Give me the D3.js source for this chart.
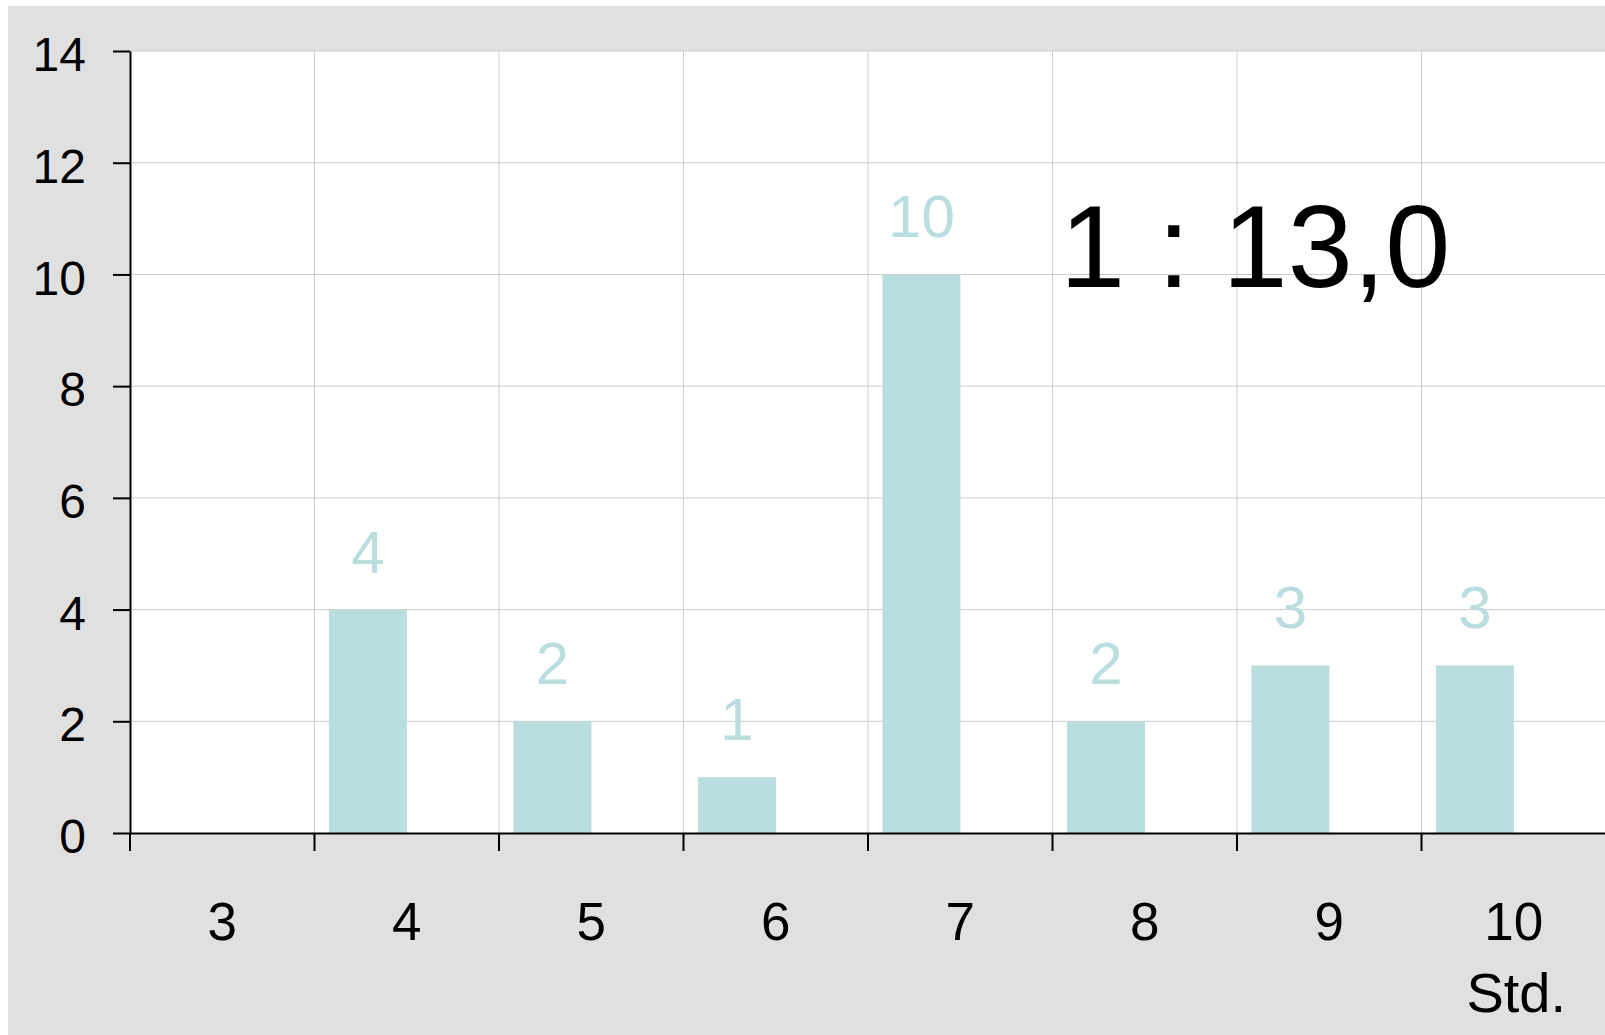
<!DOCTYPE html>
<html>
<head>
<meta charset="utf-8">
<script src="https://cdn.jsdelivr.net/npm/d3@7"></script>
<style>
  html, body { margin: 0; padding: 0; background: #fff; }
  svg { display: block; }
  text { font-family: "Liberation Sans", Arial, sans-serif; }
</style>
</head>
<body>
<svg width="1605" height="1035"></svg>
<script>
// data
const categories = ["3", "4", "5", "6", "7", "8", "9", "10"];
const counts = [null, 4, 2, 1, 10, 2, 3, 3];
const yTicks = [0, 2, 4, 6, 8, 10, 12, 14];
const ratioText = "1 : 13,0";
const unitText = "Std.";

const barColor = "#badddf";
const gridColor = "#cccccc";

const plotLeft = 130, plotTop = 51, plotBottom = 833;
const bandW = 184.5;
const plotRight = plotLeft + bandW * categories.length;

const svg = d3.select("svg");

// background
svg.append("rect")
    .attr("x", 8).attr("y", 6)
    .attr("width", 1605 - 8).attr("height", 1035 - 6)
    .attr("fill", "#e0e0e0");

svg.append("rect")
    .attr("x", plotLeft).attr("y", plotTop)
    .attr("width", plotRight - plotLeft).attr("height", plotBottom - plotTop)
    .attr("fill", "#fff");

const x = d3.scaleBand().domain(categories).range([plotLeft, plotRight]).paddingInner(0).paddingOuter(0);
const y = d3.scaleLinear().domain([0, 14]).range([plotBottom, plotTop]);

// grid
svg.append("g").selectAll("line")
    .data(yTicks.slice(1))
    .enter().append("line")
    .attr("x1", plotLeft).attr("x2", plotRight)
    .attr("y1", d => y(d)).attr("y2", d => y(d))
    .attr("stroke", gridColor).attr("stroke-width", 1);

svg.append("g").selectAll("line")
    .data(categories.slice(1))
    .enter().append("line")
    .attr("x1", d => x(d)).attr("x2", d => x(d))
    .attr("y1", plotTop).attr("y2", plotBottom)
    .attr("stroke", gridColor).attr("stroke-width", 1);

// bars
const barData = categories.map((c, i) => ({cat: c, v: counts[i]})).filter(d => d.v != null);
const bw = x.bandwidth();

svg.append("g").selectAll("rect")
    .data(barData)
    .enter().append("rect")
    .attr("x", d => x(d.cat) + bw * 0.078)
    .attr("y", d => y(d.v))
    .attr("width", bw * 0.423)
    .attr("height", d => y(0) - y(d.v))
    .attr("fill", barColor);

svg.append("g").selectAll("text")
    .data(barData)
    .enter().append("text")
    .attr("x", d => x(d.cat) + bw * 0.078 + bw * 0.423 / 2)
    .attr("y", d => y(d.v) - 37)
    .attr("text-anchor", "middle")
    .attr("font-size", "60px")
    .attr("fill", barColor)
    .text(d => d.v);

// y axis
const yAxis = svg.append("g")
    .attr("transform", `translate(${plotLeft},0)`)
    .call(d3.axisLeft(y).tickValues(yTicks).tickSize(17).tickPadding(0).tickSizeOuter(0));
yAxis.select(".domain").attr("stroke", "#000").attr("stroke-width", 2);
yAxis.selectAll(".tick line").attr("stroke", "#000").attr("stroke-width", 2);
yAxis.selectAll(".tick text")
    .attr("x", -44)
    .attr("dy", "0.41em")
    .attr("font-size", "48px")
    .attr("font-family", "Liberation Sans, Arial, sans-serif")
    .attr("fill", "#000");

// x axis
const xAxis = svg.append("g")
    .attr("transform", `translate(0,${plotBottom})`)
    .call(d3.axisBottom(x).tickSize(0).tickSizeOuter(0));
xAxis.select(".domain").attr("stroke", "#000").attr("stroke-width", 2);
xAxis.selectAll(".tick text")
    .attr("y", 107)
    .attr("dy", 0)
    .attr("font-size", "53px")
    .attr("font-family", "Liberation Sans, Arial, sans-serif")
    .attr("fill", "#000");

// x ticks at band boundaries
svg.append("g").selectAll("line")
    .data(categories)
    .enter().append("line")
    .attr("x1", d => x(d)).attr("x2", d => x(d))
    .attr("y1", plotBottom).attr("y2", plotBottom + 18)
    .attr("stroke", "#000").attr("stroke-width", 2);

svg.append("text")
    .attr("x", 1566).attr("y", 1012)
    .attr("text-anchor", "end")
    .attr("font-size", "56px")
    .text(unitText);

svg.append("text")
    .attr("x", 1060).attr("y", 287)
    .attr("font-size", "117px")
    .attr("fill", "#000")
    .text(ratioText);
</script>
</body>
</html>
